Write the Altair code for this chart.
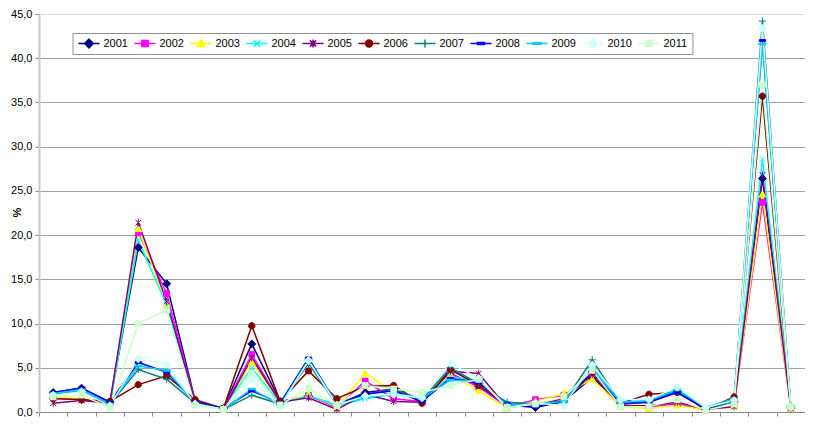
import altair as alt
import pandas as pd

# ---------------- data ----------------
categories = list(range(1, 28))  # 27 unlabeled categories
years = ["2001", "2002", "2003", "2004", "2005", "2006", "2007", "2008", "2009", "2010", "2011"]

v2001 = [2.2, 2.7, 1.1, 18.6, 14.5, 1.3, 0.4, 7.7, 1.2, 1.8, 0.8, 2.2, 2.6, 1.3, 4.3, 2.9, 0.8, 0.5, 1.2, 3.9, 1.0, 1.2, 2.35, 0.3, 1.2, 26.4, 0.5]
v2002 = [1.6, 1.4, 1.0, 20.3, 13.4, 1.2, 0.4, 6.5, 1.1, 1.9, 0.5, 3.5, 1.5, 1.2, 4.4, 2.8, 0.6, 1.4, 1.9, 4.3, 0.8, 0.6, 0.9, 0.2, 0.8, 23.7, 0.5]
v2003 = [1.7, 1.5, 0.9, 20.7, 12.2, 1.1, 0.3, 5.6, 1.0, 2.0, 0.6, 4.35, 2.3, 1.4, 4.2, 2.4, 0.4, 1.2, 2.1, 3.7, 0.6, 0.4, 0.75, 0.2, 0.7, 24.6, 0.4]
v2004 = [2.1, 2.5, 0.8, 19.4, 12.1, 1.0, 0.4, 5.0, 0.9, 1.9, 0.7, 1.5, 2.0, 1.5, 4.0, 3.5, 0.7, 1.0, 1.3, 4.8, 1.1, 1.3, 2.6, 0.4, 1.2, 28.6, 0.6]
v2005 = [1.0, 1.3, 1.0, 21.4, 12.5, 1.2, 0.3, 6.1, 1.1, 1.6, 0.3, 2.0, 1.2, 1.1, 4.6, 4.35, 0.5, 0.9, 1.5, 4.2, 0.7, 0.7, 1.1, 0.3, 0.6, 26.8, 0.4]
v2006 = [1.5, 1.4, 1.2, 3.1, 4.1, 1.4, 0.4, 9.75, 1.2, 4.65, 1.5, 2.9, 3.0, 1.0, 4.8, 3.0, 0.8, 1.0, 1.2, 4.5, 1.0, 2.0, 2.2, 0.3, 1.7, 35.7, 0.5]
v2007 = [2.0, 2.4, 0.9, 4.8, 3.7, 1.0, 0.3, 1.9, 0.9, 5.5, 0.8, 2.0, 2.6, 1.4, 5.0, 3.2, 1.1, 0.9, 1.1, 5.9, 1.0, 1.1, 2.3, 0.4, 1.2, 44.2, 0.5]
v2008 = [2.2, 2.7, 1.1, 5.6, 4.5, 1.1, 0.4, 2.4, 1.0, 6.1, 0.9, 2.0, 2.4, 1.2, 3.8, 3.3, 0.9, 0.6, 1.2, 4.6, 0.9, 1.1, 2.2, 0.4, 1.4, 42.0, 0.5]
v2009 = [2.1, 2.5, 0.9, 5.2, 4.7, 1.0, 0.3, 2.6, 0.8, 5.9, 0.9, 1.6, 2.1, 1.5, 3.6, 3.5, 0.8, 0.9, 1.2, 5.0, 1.1, 1.3, 2.5, 0.5, 1.5, 41.6, 0.6]
v2010 = [1.9, 2.3, 0.7, 6.0, 5.4, 0.9, 0.3, 3.7, 0.6, 5.8, 0.8, 1.8, 2.0, 1.6, 5.5, 3.8, 0.5, 1.0, 0.75, 5.3, 1.4, 1.4, 2.8, 0.5, 1.3, 43.4, 0.5]
v2011 = [1.7, 1.9, 0.5, 10.0, 11.5, 0.75, 0.3, 4.4, 0.8, 2.7, 0.75, 3.0, 2.6, 2.2, 3.0, 3.7, 0.5, 0.9, 1.7, 4.7, 0.6, 0.6, 1.4, 0.2, 0.9, 37.0, 0.6]

series = [v2001, v2002, v2003, v2004, v2005, v2006, v2007, v2008, v2009, v2010, v2011]

rows = []
for y, vals in zip(years, series):
    for c, v in zip(categories, vals):
        rows.append({"year": y, "cat": c, "value": v})
df = pd.DataFrame(rows)

# ---------------- styles ----------------
colors = ["#000080", "#FF00FF", "#FFFF00", "#00FFFF", "#800080", "#800000",
          "#008080", "#0000FF", "#00CCFF", "#CCFFFF", "#CCFFCC"]

def fmt(n):
    return ("%.3f" % n).rstrip("0").rstrip(".")

def poly(pts, closed=True):
    s = "M" + "L".join(f"{fmt(x)},{fmt(y)}" for x, y in pts)
    return s + ("Z" if closed else "")

def circle(r):
    return f"M{fmt(r)},0A{fmt(r)},{fmt(r)},0,1,1,{fmt(-r)},0A{fmt(r)},{fmt(r)},0,1,1,{fmt(r)},0Z"

def marker(kind, s):
    if kind == "diamond":
        return poly([(0, -1.25 * s), (1.25 * s, 0), (0, 1.25 * s), (-1.25 * s, 0)])
    if kind == "square":
        return poly([(-0.9 * s, -0.9 * s), (0.9 * s, -0.9 * s), (0.9 * s, 0.9 * s), (-0.9 * s, 0.9 * s)])
    if kind == "triangle":
        return poly([(0, -1.1 * s), (1.05 * s, 0.85 * s), (-1.05 * s, 0.85 * s)])
    if kind == "x":
        return poly([(-0.9 * s, -0.9 * s), (0.9 * s, 0.9 * s)], False) + poly([(-0.9 * s, 0.9 * s), (0.9 * s, -0.9 * s)], False)
    if kind == "star":
        return (poly([(-0.9 * s, -0.9 * s), (0.9 * s, 0.9 * s)], False) + poly([(-0.9 * s, 0.9 * s), (0.9 * s, -0.9 * s)], False)
                + poly([(0, -1.15 * s), (0, 1.15 * s)], False))
    if kind == "circle":
        return circle(1.0 * s)
    if kind == "plus":
        return poly([(-1.15 * s, 0), (1.15 * s, 0)], False) + poly([(0, -1.15 * s), (0, 1.15 * s)], False)
    if kind == "dash":
        return poly([(-1.0 * s, -0.3 * s), (1.0 * s, -0.3 * s), (1.0 * s, 0.3 * s), (-1.0 * s, 0.3 * s)])
    if kind == "longdash":
        return poly([(-1.15 * s, -0.25 * s), (1.15 * s, -0.25 * s), (1.15 * s, 0.25 * s), (-1.15 * s, 0.25 * s)])
    return circle(s)

kinds = ["diamond", "square", "triangle", "x", "star", "circle", "plus", "dash", "longdash", "diamond", "square"]
plot_shapes = [marker(k, 1.0) for k in kinds]
legend_shapes = ["M-1,0L1,0" + marker(k, 0.33) for k in kinds]

FONT = "Liberation Sans"

base = alt.Chart(df).transform_calculate(xpos="datum.cat - 0.5")

x_enc = alt.X("xpos:Q", scale=alt.Scale(domain=[0, 27], nice=False, zero=False),
              axis=alt.Axis(values=list(range(0, 28)), labels=False, grid=False, title=None,
                            domainColor="#868686", domainWidth=1, tickColor="#868686",
                            tickSize=4, tickWidth=1))
y_enc = alt.Y("value:Q", scale=alt.Scale(domain=[0, 45], nice=False),
              axis=alt.Axis(values=list(range(0, 50, 5)), title="%",
                            labelExpr="replace(format(datum.value, '.1f'), '.', ',')",
                            labelFont=FONT, labelFontSize=11, labelColor="#000000", labelPadding=3,
                            tickColor="#868686", tickSize=4, domainColor="#c8c8c8", domainWidth=2,
                            gridColor="#a0a0a0", gridWidth=1,
                            gridOpacity=alt.condition("datum.value == 45 || datum.value == 0",
                                                      alt.value(0), alt.value(1)),
                            titleFont=FONT, titleFontSize=11, titleFontWeight="bold",
                            titleColor="#000000", titleAngle=270, titleX=-22, titleY=198,
                            titleAlign="center", titleBaseline="middle"))

lines = base.mark_line(strokeWidth=1.5).encode(
    x=x_enc, y=y_enc,
    color=alt.Color("year:N", scale=alt.Scale(domain=years, range=colors), legend=None),
    order=alt.Order("cat:Q"),
)

points = base.mark_point(filled=True, opacity=1, size=40, strokeWidth=1).encode(
    x=x_enc, y=y_enc,
    fill=alt.Fill("year:N", scale=alt.Scale(domain=years, range=colors), legend=None),
    stroke=alt.Stroke("year:N", scale=alt.Scale(domain=years, range=colors), legend=None),
    shape=alt.Shape("year:N", scale=alt.Scale(domain=years, range=plot_shapes), legend=None),
)

leg = alt.Legend(orient="none", legendX=33.5, legendY=19, direction="horizontal", title=None,
                 symbolSize=441, symbolStrokeWidth=1.5, labelFont=FONT, labelFontSize=11,
                 labelColor="#000000", labelOffset=3, columnPadding=5, padding=5,
                 strokeColor="#909090", fillColor="#ffffff", clipHeight=11)

legend_layer = base.transform_filter("false").mark_point(filled=True, opacity=1, strokeWidth=1.5).encode(
    x=x_enc, y=y_enc,
    fill=alt.Fill("year:N", scale=alt.Scale(domain=years, range=colors), legend=leg),
    stroke=alt.Stroke("year:N", scale=alt.Scale(domain=years, range=colors), legend=leg),
    shape=alt.Shape("year:N", scale=alt.Scale(domain=years, range=legend_shapes), legend=leg),
)

chart = alt.layer(lines, points, legend_layer).resolve_scale(
    shape="independent", fill="independent", stroke="independent"
).properties(
    width=766, height=398,
    autosize=alt.AutoSizeParams(type="none"),
    padding={"left": 31, "top": 6, "right": 0, "bottom": 5},
).configure_view(stroke=None).configure(background="white")

chart.save("out.html", embed_options={"renderer": "svg", "actions": False})
